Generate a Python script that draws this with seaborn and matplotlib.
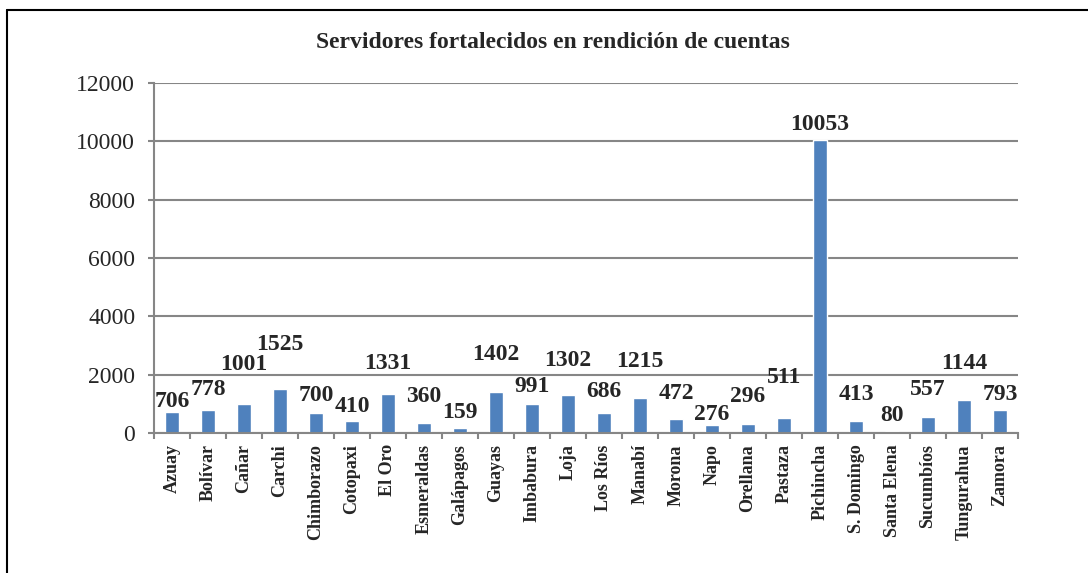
import numpy as np
import pandas as pd
import seaborn as sns
import matplotlib
matplotlib.use("Agg")
import matplotlib.pyplot as plt
from matplotlib.lines import Line2D

# data
provincias = ["Azuay", "Bolívar", "Cañar", "Carchi", "Chimborazo", "Cotopaxi",
              "El Oro", "Esmeraldas", "Galápagos", "Guayas", "Imbabura", "Loja",
              "Los Ríos", "Manabí", "Morona", "Napo", "Orellana", "Pastaza",
              "Pichincha", "S. Domingo", "Santa Elena", "Sucumbíos",
              "Tungurahua", "Zamora"]
servidores = [706, 778, 1001, 1525, 700, 410, 1331, 360, 159, 1402, 991, 1302,
              686, 1215, 472, 276, 296, 511, 10053, 413, 80, 557, 1144, 793]

# label gap above each bar (pixels), labels were hand-placed in the original
label_gap_px = [5.6, 15, 34, 39, 11.5, 8.7, 25.6, 21, 10, 32, 12, 29,
                15.6, 30.7, 20, 5, 22.6, 35, 10, 21, 10, 21.7, 31, 10]

df = pd.DataFrame({"provincia": provincias, "servidores": servidores})

sns.set_style("white")
plt.rcParams["font.family"] = ["Liberation Serif", "DejaVu Serif"]

fig = plt.figure(figsize=(10.88, 5.73), dpi=100)
ax = fig.add_axes([0.1415, 0.2443, 0.7942, 0.6108])

sns.barplot(data=df, x="provincia", y="servidores", color="#4F81BD",
            width=0.39, saturation=1, ax=ax)

ax.set_ylim(0, 12000)
ax.set_xlim(-0.5, len(provincias) - 0.5)
ax.set_yticks(range(0, 12001, 2000))
ax.yaxis.grid(True, color="#868686", linewidth=1.5)
ax.set_axisbelow(True)
for s in ["top", "right"]:
    ax.spines[s].set_visible(False)
for s in ["left", "bottom"]:
    ax.spines[s].set_color("#868686")
    ax.spines[s].set_linewidth(1.5)

ax.tick_params(axis="y", labelsize=17, length=4.5, width=1.5, color="#868686",
               pad=9, left=True)
ax.set_xticks(range(len(provincias)))
ax.set_xticklabels(provincias, rotation=90, fontsize=13, fontweight="bold")
ax.tick_params(axis="x", which="major", length=0, pad=8)
ax.set_xticks(np.arange(-0.5, len(provincias), 1), minor=True)
ax.tick_params(axis="x", which="minor", length=4.5, width=1.5, color="#868686",
               bottom=True)
ax.set_xlabel("")
ax.set_ylabel("")

for i, v in enumerate(servidores):
    ax.annotate(str(v), (i, v), xytext=(0, label_gap_px[i] * 0.72),
                textcoords="offset points", ha="center", va="baseline",
                fontsize=17, fontweight="bold")

fig.text(0.508, 0.925, "Servidores fortalecidos en rendición de cuentas",
         ha="center", va="center", fontsize=17, fontweight="bold")

# chart area border (left and top edges visible)
fig.add_artist(Line2D([7 / 1088, 7 / 1088], [0, 1 - 10 / 573],
                      color="black", linewidth=1.5, transform=fig.transFigure))
fig.add_artist(Line2D([7 / 1088, 1], [1 - 10 / 573, 1 - 10 / 573],
                      color="black", linewidth=1.5, transform=fig.transFigure))

fig.savefig("out.png", dpi=100)
